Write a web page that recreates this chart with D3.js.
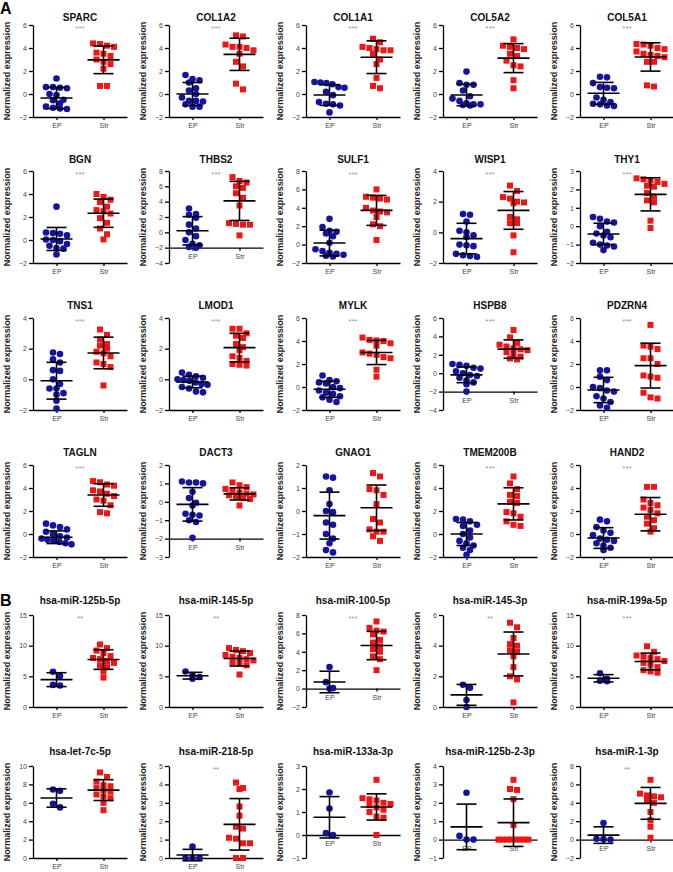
<!DOCTYPE html>
<html>
<head>
<meta charset="utf-8">
<script src="https://cdn.jsdelivr.net/npm/d3@7"></script>
<style>
  body { margin: 0; background: #fff; }
  .axis path, .axis line { stroke: #000; stroke-width: 1.3px; }
  .axis text { fill: #444; font-family: "Liberation Sans", Arial, sans-serif; font-size: 7px; }
</style>
</head>
<body>
<script>
// panel titles, left to right and top to bottom (A: genes, B: miRNAs)
var titles = ["SPARC", "COL1A2", "COL1A1", "COL5A2", "COL5A1",
  "BGN", "THBS2", "SULF1", "WISP1", "THY1",
  "TNS1", "LMOD1", "MYLK", "HSPB8", "PDZRN4",
  "TAGLN", "DACT3", "GNAO1", "TMEM200B", "HAND2",
  "hsa-miR-125b-5p", "hsa-miR-145-5p", "hsa-miR-100-5p", "hsa-miR-145-3p", "hsa-miR-199a-5p",
  "hsa-let-7c-5p", "hsa-miR-218-5p", "hsa-miR-133a-3p", "hsa-miR-125b-2-3p", "hsa-miR-1-3p"];

var groups = ["EP", "Str"];

// significance marks
var stars = ["***", "***", "***", "***", "***",
  "***", "***", "***", "***", "***",
  "***", "***", "***", "***", "***",
  "***", "", "", "***", "***",
  "**", "**", "***", "**", "***",
  "", "**", "", "", "**"];

// y tick labels for each panel
var yTicks = [
  [-2, 0, 2, 4, 6], [-2, 0, 2, 4, 6], [-2, 0, 2, 4, 6], [-2, 0, 2, 4, 6], [-2, 0, 2, 4, 6],
  [-2, 0, 2, 4, 6], [-4, -2, 0, 2, 4, 6, 8], [-2, 0, 2, 4, 6, 8], [-2, 0, 2, 4], [-2, -1, 0, 1, 2, 3],
  [-2, 0, 2, 4], [-2, 0, 2, 4], [-2, 0, 2, 4, 6], [-4, -2, 0, 2, 4, 6], [-2, 0, 2, 4, 6],
  [-2, 0, 2, 4, 6], [-3, -2, -1, 0, 1, 2], [-2, -1, 0, 1, 2], [-2, 0, 2, 4, 6], [-2, 0, 2, 4, 6],
  [0, 5, 10, 15], [0, 5, 10, 15], [-2, 0, 2, 4, 6, 8], [0, 2, 4, 6], [0, 5, 10, 15],
  [0, 2, 4, 6, 8, 10], [0, 1, 2, 3, 4, 5], [-1, 0, 1, 2, 3], [-1, 0, 1, 2, 3, 4], [-2, 0, 2, 4, 6, 8]];

// value where the x axis crosses
var xAxisAt = [-2, -2, -2, -2, -2,
  -2, -2, -2, -2, -2,
  -2, -2, -2, -2, -2,
  -2, -2, -2, -2, -2,
  0, 0, 0, 0, 0,
  0, 0, 0, 0, 0];

// EP samples (blue circles)
var epValues = [
  [1.35, 0.6, 0.6, 0.55, 0.5, 0.0, -0.1, -0.5, -0.55, -0.8, -1.1, -1.2, -1.25, -1.3],
  [1.65, 1.3, 1.2, 1.0, 0.5, 0.3, 0.0, -0.3, -0.6, -0.6, -0.65, -0.9, -1.1, -1.1],
  [1.05, 1.0, 0.95, 0.85, 0.6, 0.55, 0.2, -0.1, -0.7, -0.85, -0.9, -1.0, -1.6],
  [1.95, 0.95, 0.8, 0.8, 0.3, -0.2, -0.4, -0.6, -0.8, -0.9, -0.9, -0.95, -1.0],
  [1.5, 1.45, 0.95, 0.6, 0.55, 0.5, -0.3, -0.5, -0.7, -0.85, -0.9, -1.0, -1.05],
  [2.9, 0.65, 0.6, 0.55, 0.4, 0.05, 0.0, -0.1, -0.35, -0.5, -0.7, -0.75, -1.25],
  [3.1, 2.4, 2.3, 1.9, 1.0, 0.5, 0.0, -0.5, -1.0, -1.5, -1.7, -1.9, -2.0],
  [2.8, 1.9, 1.5, 1.4, 1.2, 0.9, 0.2, -0.5, -0.7, -0.9, -1.0, -1.1, -1.2, -1.3],
  [1.2, 1.15, 0.7, 0.1, 0.0, -0.2, -0.3, -0.8, -0.85, -0.9, -1.4, -1.5, -1.55, -1.6],
  [0.5, 0.4, 0.25, 0.2, 0.0, -0.3, -0.4, -0.5, -0.6, -0.9, -1.0, -1.05, -1.1, -1.3],
  [1.75, 1.65, 1.3, 1.1, 0.6, 0.55, 0.0, -0.3, -0.6, -0.6, -0.9, -1.0, -1.4, -1.9],
  [0.45, 0.3, 0.2, 0.1, 0.0, -0.05, -0.1, -0.2, -0.3, -0.35, -0.5, -0.6, -0.8, -0.85],
  [1.0, 0.6, 0.5, 0.4, 0.3, 0.0, -0.1, -0.3, -0.5, -0.6, -0.8, -0.9, -1.1, -1.3],
  [1.0, 0.9, 0.8, 0.6, 0.5, 0.2, 0.0, -0.2, -0.3, -0.5, -0.8, -1.0, -1.2, -2.0],
  [1.45, 1.45, 0.9, 0.6, 0.0, -0.1, -0.3, -0.4, -0.8, -1.0, -1.3, -1.6, -1.8],
  [0.9, 0.75, 0.6, 0.4, 0.2, 0.0, -0.2, -0.3, -0.4, -0.5, -0.6, -0.7, -0.8, -0.9],
  [1.1, 1.05, 1.05, 1.0, 0.55, 0.2, -0.05, -0.2, -0.65, -0.7, -0.75, -1.0, -1.1, -1.95],
  [1.5, 1.45, 0.9, 0.3, 0.0, -0.05, -0.5, -0.6, -1.0, -1.2, -1.4, -1.7, -1.8],
  [1.3, 1.25, 1.1, 0.8, 0.7, 0.3, 0.0, -0.3, -0.6, -0.8, -1.0, -1.2, -1.4, -1.8],
  [1.25, 1.1, 0.6, 0.3, 0.1, -0.1, -0.4, -0.5, -0.6, -0.8, -1.0, -1.2, -1.4],
  [5.75, 5.05, 3.6, 3.5],
  [5.8, 5.2, 4.9, 4.6],
  [2.35, 0.7, 0.05, 0.0],
  [1.45, 1.25, 0.45, 0.0],
  [5.5, 4.6, 4.3, 4.2],
  [7.45, 7.3, 5.9, 5.5],
  [0.62, 0.0, 0.0, 0.0],
  [1.85, 1.15, 0.08, 0.0],
  [2.55, 0.2, 0.0, 0.0],
  [1.8, 0.1, 0.05, 0.0]];

// Str samples (red squares)
var strValues = [
  [4.4, 4.35, 4.2, 4.1, 3.6, 3.5, 3.3, 3.0, 2.8, 2.6, 2.2, 0.7, 0.7],
  [5.1, 5.0, 4.3, 4.1, 4.1, 4.0, 3.8, 3.5, 2.8, 2.4, 0.9, 0.4],
  [4.8, 4.5, 4.1, 4.0, 3.9, 3.8, 3.8, 3.5, 3.0, 2.6, 1.4, 0.7, 0.5],
  [4.75, 4.2, 4.1, 4.0, 3.9, 3.5, 3.3, 2.9, 2.5, 2.4, 1.2, 0.5],
  [4.35, 4.3, 4.2, 4.0, 3.9, 3.7, 3.5, 3.4, 3.3, 3.2, 2.8, 2.8, 0.75, 0.65],
  [4.0, 3.75, 3.5, 3.3, 2.9, 2.6, 2.5, 2.3, 1.9, 1.5, 1.0, 0.5, 0.05],
  [7.2, 6.7, 6.5, 6.0, 5.8, 5.1, 4.5, 3.5, 1.2, 1.1, 1.0, 1.0, -0.4],
  [6.0, 5.2, 5.1, 5.0, 4.9, 4.0, 3.7, 3.6, 3.5, 3.0, 2.2, 2.0, 0.5],
  [3.05, 2.7, 2.3, 2.2, 2.0, 1.95, 1.9, 1.0, 0.85, 0.6, 0.6, -0.2, -1.3],
  [2.6, 2.55, 2.5, 2.4, 2.3, 2.2, 2.15, 1.8, 1.6, 1.4, 1.3, 0.3, -0.1],
  [3.25, 2.9, 2.6, 2.3, 2.2, 2.0, 1.8, 1.7, 1.5, 1.1, 1.0, 0.8, -0.4],
  [3.3, 3.3, 3.0, 2.85, 2.7, 2.3, 2.1, 1.9, 1.5, 1.4, 1.2, 1.0, 0.95, 0.9],
  [4.3, 4.1, 4.05, 4.0, 3.8, 3.6, 3.0, 2.9, 2.8, 2.6, 2.5, 1.5, 0.9],
  [4.7, 3.9, 3.3, 3.1, 2.9, 2.7, 2.6, 2.5, 2.3, 2.1, 1.8, 1.6, 1.5],
  [5.4, 3.6, 3.5, 3.3, 2.5, 2.5, 2.0, 1.0, 0.9, 0.8, -0.5, -0.9, -1.0],
  [4.6, 4.5, 4.3, 4.2, 3.8, 3.7, 3.5, 3.3, 3.0, 2.9, 2.5, 1.9, 1.8],
  [1.05, 0.9, 0.8, 0.7, 0.6, 0.5, 0.45, 0.4, 0.35, 0.3, 0.2, 0.15, -0.2],
  [1.65, 1.5, 0.95, 0.9, 0.7, 0.3, -0.35, -0.5, -0.8, -0.9, -0.9, -1.1, -1.3],
  [5.0, 4.4, 3.9, 3.4, 3.3, 2.8, 2.7, 1.9, 1.8, 1.5, 1.1, 0.8, 0.7],
  [4.1, 4.1, 3.0, 2.7, 2.5, 2.3, 2.1, 1.8, 1.5, 1.2, 0.9, 0.5, 0.2],
  [10.2, 9.6, 9.2, 8.8, 8.3, 8.0, 7.8, 7.5, 7.2, 6.8, 6.5, 5.8, 4.8],
  [9.6, 9.3, 9.1, 8.8, 8.5, 8.2, 8.0, 7.8, 7.6, 7.3, 7.1, 6.8, 5.3],
  [7.3, 6.6, 6.3, 6.2, 5.9, 5.3, 5.0, 4.6, 4.3, 4.0, 3.5, 3.2, 2.0],
  [5.5, 5.2, 4.5, 4.1, 4.0, 3.7, 3.6, 3.3, 2.6, 2.0, 1.8, 0.3],
  [9.9, 9.0, 8.4, 8.2, 8.0, 7.8, 7.5, 7.2, 6.9, 6.5, 6.0, 5.8, 5.6],
  [9.3, 8.8, 8.3, 7.9, 7.8, 7.6, 7.4, 7.2, 6.9, 6.7, 6.5, 6.0, 5.2],
  [4.1, 3.8, 3.75, 2.8, 2.3, 1.7, 1.6, 1.1, 1.05, 0.8, 0.8, 0.0, 0.0],
  [2.4, 1.6, 1.55, 1.5, 1.4, 1.35, 1.3, 1.2, 1.1, 1.0, 0.8, 0.75, 0.0],
  [3.25, 2.75, 2.7, 2.2, 0.8, 0.0, 0.0, 0.0, 0.0, 0.0, 0.0, 0.0, 0.0],
  [6.5, 5.0, 4.8, 4.7, 4.6, 4.2, 4.0, 3.0, 2.1, 1.4, 0.2]];

// mean and SD as drawn in the figure
var epMean = [-0.35, 0.0, -0.09, -0.09, 0.06, 0.09, 0.2, 0.17, -0.41, -0.42,
  -0.09, -0.17, -0.2, -0.18, -0.26, -0.28, -0.14, -0.2, 0.0, -0.35,
  4.46, 5.1, 0.72, 0.79, 4.68, 6.52, 0.16, 0.77, 0.69, 0.49];
var epSd = [0.92, 1.0, 0.9, 0.93, 0.95, 1.0, 1.85, 1.4, 1.0, 0.58,
  1.2, 0.38, 0.7, 0.85, 1.1, 0.55, 0.91, 1.02, 1.0, 0.9,
  1.13, 0.55, 1.17, 0.68, 0.6, 1.0, 0.31, 0.9, 1.24, 0.9];
var strMean = [2.97, 3.45, 3.2, 3.12, 3.22, 2.33, 4.1, 3.72, 1.43, 1.73,
  1.72, 2.07, 3.0, 2.62, 1.86, 3.39, 0.43, 0.14, 2.62, 1.72,
  7.74, 7.9, 4.68, 3.46, 7.42, 7.38, 1.83, 1.22, 0.92, 3.94];
var strSd = [1.2, 1.4, 1.42, 1.26, 1.23, 1.23, 2.55, 1.63, 1.23, 0.9,
  1.03, 0.93, 1.05, 1.0, 1.95, 0.98, 0.33, 0.99, 1.4, 1.45,
  1.6, 1.22, 1.54, 1.43, 1.37, 1.13, 1.4, 0.57, 1.29, 1.73];

// layout of the grid
var width = 673;
var height = 872;
var colX = [33, 169, 306, 443, 580];
var rowTop = [25, 171, 318, 465, 615, 766];
var titleY = [21, 163, 309, 456, 604, 755];
var plotW = 94;
var plotH = 92;
var binH = 6;

var blue = "#14149e";
var red = "#ee1616";
var font = "'Liberation Sans', Arial, sans-serif";

var holder = d3.select("body")
  .append("svg")
  .attr("width", width)
  .attr("height", height)
  .style("background", "#fff");

// section letters
holder.append("text").attr("x", 0).attr("y", 14).text("A")
  .attr("font-family", font).attr("font-size", "16px").attr("font-weight", "700");
holder.append("text").attr("x", 0).attr("y", 606).text("B")
  .attr("font-family", font).attr("font-size", "16px").attr("font-weight", "700");

// spread points of similar value side by side, like a column scatter
function swarmOffsets(values, y) {
  var pts = values.map(function(v, i) { return {i: i, py: y(v)}; });
  pts.sort(function(a, b) { return a.py - b.py; });
  var offsets = new Array(values.length);
  var k = 0;
  while (k < pts.length) {
    var start = pts[k].py;
    var row = [];
    while (k < pts.length && pts[k].py - start < binH) { row.push(pts[k]); k++; }
    var step = row.length > 1 ? Math.min(7, 30 / (row.length - 1)) : 0;
    row.forEach(function(p, j) { offsets[p.i] = (j - (row.length - 1) / 2) * step; });
  }
  return offsets;
}

titles.forEach(function(title, p) {
  var col = p % 5;
  var row = Math.floor(p / 5);
  var g = holder.append("g")
    .attr("transform", "translate(" + colX[col] + "," + rowTop[row] + ")");

  var ticks = yTicks[p];
  var y = d3.scaleLinear()
    .domain([ticks[0], ticks[ticks.length - 1]])
    .range([plotH, 0]);
  var x = d3.scalePoint()
    .domain(groups)
    .range([0, plotW])
    .padding(0.5);

  // title and axis label
  holder.append("text")
    .attr("x", colX[col] + plotW / 2)
    .attr("y", titleY[row])
    .attr("text-anchor", "middle")
    .attr("font-family", font)
    .attr("font-size", "10px")
    .attr("font-weight", "700")
    .attr("fill", "#111")
    .text(title);

  g.append("text")
    .attr("transform", "translate(-23," + (plotH / 2) + ") rotate(-90)")
    .attr("text-anchor", "middle")
    .attr("font-family", font)
    .attr("font-size", "9px")
    .attr("font-weight", "700")
    .attr("fill", "#222")
    .text("Normalized expression");

  // axes
  g.append("g")
    .attr("class", "axis")
    .call(d3.axisLeft(y).tickValues(ticks).tickFormat(d3.format("d"))
      .tickSize(4).tickSizeOuter(0).tickPadding(2));

  g.append("g")
    .attr("class", "axis")
    .attr("transform", "translate(0," + y(xAxisAt[p]) + ")")
    .call(d3.axisBottom(x).tickSize(3).tickSizeOuter(0).tickPadding(3));

  if (stars[p]) {
    g.append("text")
      .attr("x", plotW / 2)
      .attr("y", 6)
      .attr("text-anchor", "middle")
      .attr("font-family", font)
      .attr("font-size", "8px")
      .attr("fill", "#999")
      .text(stars[p]);
  }

  // EP circles
  var epOff = swarmOffsets(epValues[p], y);
  g.selectAll(".ep")
    .data(epValues[p])
    .enter().append("circle")
    .attr("class", "ep")
    .attr("cx", function(d, i) { return x("EP") + epOff[i]; })
    .attr("cy", function(d) { return y(d); })
    .attr("r", 3.3)
    .attr("fill", blue);

  // Str squares
  var strOff = swarmOffsets(strValues[p], y);
  g.selectAll(".str")
    .data(strValues[p])
    .enter().append("rect")
    .attr("class", "str")
    .attr("x", function(d, i) { return x("Str") + strOff[i] - 3; })
    .attr("y", function(d) { return y(d) - 3; })
    .attr("width", 6)
    .attr("height", 6)
    .attr("fill", red);

  // mean with SD bars
  var stats = [
    {g: "EP", m: epMean[p], s: epSd[p]},
    {g: "Str", m: strMean[p], s: strSd[p]}
  ];
  stats.forEach(function(d) {
    var cx = x(d.g);
    var bars = g.append("g").attr("stroke", "#000").attr("stroke-width", 1.6);
    bars.append("line").attr("x1", cx - 16).attr("x2", cx + 16)
      .attr("y1", y(d.m)).attr("y2", y(d.m));
    bars.append("line").attr("x1", cx).attr("x2", cx)
      .attr("y1", y(d.m - d.s)).attr("y2", y(d.m + d.s));
    bars.append("line").attr("x1", cx - 10).attr("x2", cx + 10)
      .attr("y1", y(d.m + d.s)).attr("y2", y(d.m + d.s));
    bars.append("line").attr("x1", cx - 10).attr("x2", cx + 10)
      .attr("y1", y(d.m - d.s)).attr("y2", y(d.m - d.s));
  });
});
</script>
</body>
</html>
